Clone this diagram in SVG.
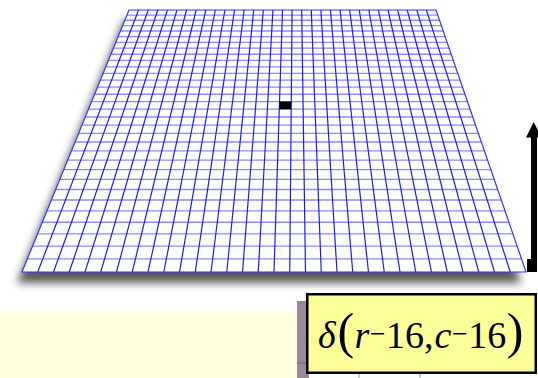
<svg xmlns="http://www.w3.org/2000/svg" width="538" height="378" viewBox="0 0 538 378">
  <defs>
    <filter id="blur" x="-20%" y="-20%" width="140%" height="140%">
      <feGaussianBlur stdDeviation="4.5"/>
    </filter>
    <clipPath id="plane">
      <polygon points="22,272 526,272 436,10 129,10"/>
    </clipPath>
    <style>
      .vline { stroke: #1a1aff; stroke-width: 1.2; fill: none; }
      .hline { stroke: #8c8cff; stroke-width: 1.3; fill: none; }
      .edge { stroke: #3333ff; stroke-width: 1.2; fill: none; }
      .math { font-family: "Liberation Serif", "Times New Roman", serif; fill: #000; }
      .it { font-style: italic; }
    </style>
  </defs>
  <rect width="538" height="378" fill="#ffffff"/>

  <g id="background">
    <rect x="0" y="312" width="297" height="66" fill="#ffffdd"/>
    <rect x="297" y="301" width="12" height="77" fill="#9a8898"/>
    <line x1="297" y1="363" x2="309" y2="363" stroke="#6e5e6c" stroke-width="1"/>
    <line x1="359" y1="373" x2="359" y2="378" stroke="#9a9a9a" stroke-width="1"/>
    <line x1="420" y1="373" x2="420" y2="378" stroke="#9a9a9a" stroke-width="1"/>
  </g>

  <g id="plane-shadow">
    <polygon points="17,283 521,283 431,20 124,20" fill="#4a4a4a" opacity="0.9" filter="url(#blur)"/>
  </g>

  <g id="grid">
    <polygon points="22,272 526,272 436,10 129,10" fill="#ffffff"/>
    <g clip-path="url(#plane)">
      <path class="hline" d="M0 258.82H538M0 246.15H538M0 233.97H538M0 222.23H538M0 210.92H538M0 200.01H538M0 189.49H538M0 179.34H538M0 169.53H538M0 160.04H538M0 150.87H538M0 142H538M0 133.4H538M0 125.08H538M0 117.01H538M0 109.19H538M0 101.61H538M0 94.24H538M0 87.09H538M0 80.15H538M0 73.4H538M0 66.83H538M0 60.45H538M0 54.24H538M0 48.2H538M0 42.32H538M0 36.59H538M0 31.01H538M0 25.57H538M0 20.26H538M0 15.08H538"/>
      <path class="vline" d="M37.75 272L138.59 10M53.5 272L148.19 10M69.25 272L157.78 10M85 272L167.38 10M100.75 272L176.97 10M116.5 272L186.56 10M132.25 272L196.16 10M148 272L205.75 10M163.75 272L215.34 10M179.5 272L224.94 10M195.25 272L234.53 10M211 272L244.13 10M226.75 272L253.72 10M242.5 272L263.31 10M258.25 272L272.91 10M274 272L282.5 10M289.75 272L292.09 10M305.5 272L301.69 10M321.25 272L311.28 10M337 272L320.88 10M352.75 272L330.47 10M368.5 272L340.06 10M384.25 272L349.66 10M400 272L359.25 10M415.75 272L368.84 10M431.5 272L378.44 10M447.25 272L388.03 10M463 272L397.63 10M478.75 272L407.22 10M494.5 272L416.81 10M510.25 272L426.41 10"/>
    </g>
    <polygon class="edge" points="22,272 526,272 436,10 129,10"/>
  </g>

  <g id="impulse">
    <polygon points="279.3,109.2 279.5,101.6 291.3,101.6 291.2,109.2" fill="#000000"/>
  </g>

  <g id="connectors">
    <rect x="531" y="135" width="6" height="137" fill="#000000"/>
    <rect x="527" y="259" width="10" height="13" fill="#000000"/>
    <polygon points="526,137.5 533.7,122 541.5,137.5" fill="#000000"/>
  </g>

  <g id="formula">
    <rect x="307.25" y="294.25" width="228.5" height="78.5" fill="#ffff99" stroke="#000000" stroke-width="2.5"/>
    <text class="math" y="348" font-size="38"><tspan class="it" x="318">δ</tspan><tspan x="337.5" font-size="50">(</tspan><tspan class="it" x="354.5">r</tspan><tspan x="369.8" y="343" font-size="28">−</tspan><tspan x="386" y="348">16,</tspan><tspan class="it" x="434.5">c</tspan><tspan x="452" y="343" font-size="28">−</tspan><tspan x="468.3" y="348">16</tspan><tspan x="506.8" font-size="50">)</tspan></text>
  </g>
</svg>
